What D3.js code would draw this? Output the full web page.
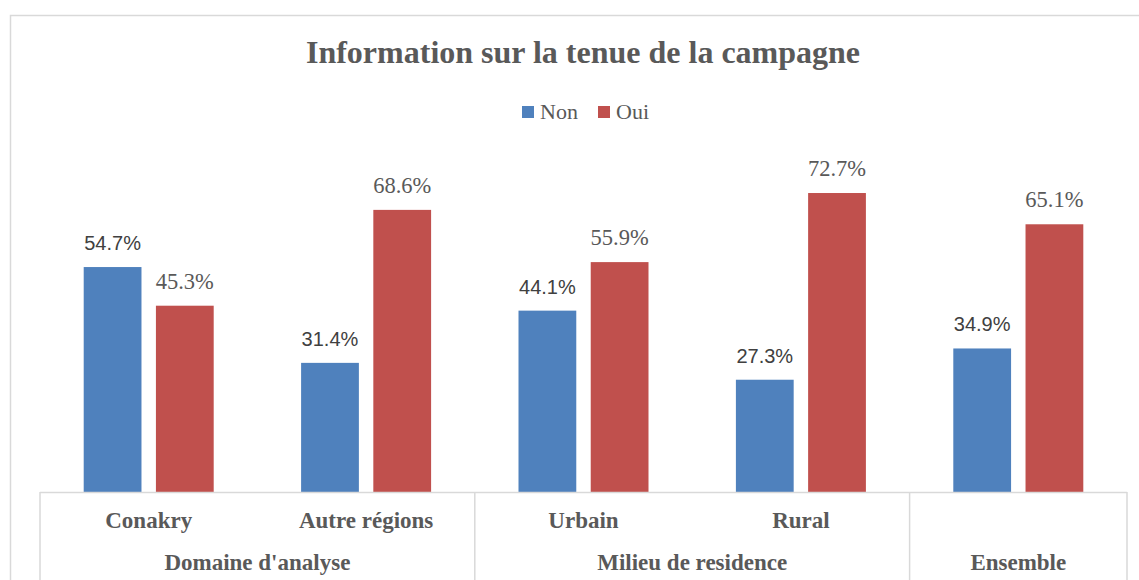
<!DOCTYPE html>
<html>
<head>
<meta charset="utf-8">
<script src="https://cdn.jsdelivr.net/npm/d3@7"></script>
<style>
  body { margin: 0; background: #fff; }
  svg { display: block; }
</style>
</head>
<body>
<div id="chart"></div>
<script>
var svgWidth = 1139;
var svgHeight = 580;

// data
var categories = ["Conakry", "Autre régions", "Urbain", "Rural", "Ensemble"];
var groups = ["Domaine d'analyse", "Domaine d'analyse", "Milieu de residence", "Milieu de residence", "Ensemble"];
var seriesNames = ["Non", "Oui"];
var nonValues = [54.7, 31.4, 44.1, 27.3, 34.9];
var ouiValues = [45.3, 68.6, 55.9, 72.7, 65.1];

var colors = { Non: "#4F81BD", Oui: "#C0504D" };
var serif = "Liberation Serif, DejaVu Serif, serif";
var sans = "Liberation Sans, Arial, sans-serif";

var margin = { top: 163, left: 40, right: 12, bottom: 88 };
var plotRight = svgWidth - margin.right;
var baseY = svgHeight - margin.bottom;

var svg = d3.select("#chart")
    .append("svg")
    .attr("width", svgWidth)
    .attr("height", svgHeight);

// outer chart frame
svg.append("rect")
    .attr("x", 10.5)
    .attr("y", 15.5)
    .attr("width", svgWidth + 20)
    .attr("height", svgHeight + 20)
    .attr("fill", "none")
    .attr("stroke", "#d9d9d9")
    .attr("stroke-width", 1.5);

// title
svg.append("text")
    .attr("x", 583)
    .attr("y", 63)
    .attr("text-anchor", "middle")
    .attr("font-family", serif)
    .attr("font-weight", "bold")
    .attr("font-size", 32)
    .attr("fill", "#595959")
    .text("Information sur la tenue de la campagne");

// legend
var legendX = [522, 598];
seriesNames.forEach(function(name, i) {
    svg.append("rect")
        .attr("x", legendX[i])
        .attr("y", 106)
        .attr("width", 12)
        .attr("height", 12)
        .attr("fill", colors[name]);
    svg.append("text")
        .attr("x", legendX[i] + 18)
        .attr("y", 119)
        .attr("font-family", serif)
        .attr("font-size", 22)
        .attr("fill", "#595959")
        .text(name);
});

// scales
var x0 = d3.scaleBand()
    .domain(categories)
    .range([margin.left, plotRight]);

var x1 = d3.scaleBand()
    .domain(seriesNames)
    .range([0, 130])
    .paddingInner(0.2);

var y = d3.scaleLinear()
    .domain([0, 80])
    .range([baseY, margin.top]);

var data = categories.map(function(c, i) {
    return { cat: c, Non: nonValues[i], Oui: ouiValues[i] };
});

var chartGroup = svg.append("g");

var catGroups = chartGroup.selectAll("g.cat")
    .data(data)
    .enter()
    .append("g")
    .attr("class", "cat")
    .attr("transform", d => `translate(${x0(d.cat) + (x0.bandwidth() - 130) / 2}, 0)`);

catGroups.selectAll("rect")
    .data(d => seriesNames.map(s => ({ s: s, v: d[s] })))
    .enter()
    .append("rect")
    .attr("x", d => x1(d.s))
    .attr("y", d => y(d.v))
    .attr("width", x1.bandwidth())
    .attr("height", d => baseY - y(d.v))
    .attr("fill", d => colors[d.s]);

// value labels
catGroups.selectAll("text")
    .data(d => seriesNames.map(s => ({ s: s, v: d[s] })))
    .enter()
    .append("text")
    .attr("x", d => x1(d.s) + x1.bandwidth() / 2)
    .attr("y", d => y(d.v) - 17)
    .attr("text-anchor", "middle")
    .attr("font-family", d => d.s == "Non" ? sans : serif)
    .attr("font-size", d => d.s == "Non" ? 20 : 22.5)
    .attr("fill", d => d.s == "Non" ? "#404040" : "#595959")
    .text(d => d.v.toFixed(1) + "%");

// category axis (two levels)
var axis = svg.append("g");
axis.append("line")
    .attr("x1", margin.left).attr("x2", plotRight)
    .attr("y1", baseY + 0.5).attr("y2", baseY + 0.5)
    .attr("stroke", "#d9d9d9").attr("stroke-width", 1.5);

var sepX = [margin.left, x0("Urbain"), x0("Ensemble"), plotRight];
sepX.forEach(function(sx) {
    axis.append("line")
        .attr("x1", sx).attr("x2", sx)
        .attr("y1", baseY).attr("y2", svgHeight)
        .attr("stroke", "#d9d9d9").attr("stroke-width", 1.5);
});

axis.selectAll("text.cat")
    .data(categories.filter(c => c != "Ensemble"))
    .enter()
    .append("text")
    .attr("class", "cat")
    .attr("x", d => x0(d) + x0.bandwidth() / 2)
    .attr("y", 528)
    .attr("text-anchor", "middle")
    .attr("font-family", serif)
    .attr("font-weight", "bold")
    .attr("font-size", 23)
    .attr("fill", "#595959")
    .text(d => d);

var groupNames = Array.from(new Set(groups));
axis.selectAll("text.grp")
    .data(groupNames)
    .enter()
    .append("text")
    .attr("class", "grp")
    .attr("x", function(g) {
        var cats = categories.filter((c, i) => groups[i] == g);
        var a = x0(cats[0]);
        var b = x0(cats[cats.length - 1]) + x0.bandwidth();
        return (a + b) / 2;
    })
    .attr("y", 570)
    .attr("text-anchor", "middle")
    .attr("font-family", serif)
    .attr("font-weight", "bold")
    .attr("font-size", 23)
    .attr("fill", "#595959")
    .text(d => d);
</script>
</body>
</html>
